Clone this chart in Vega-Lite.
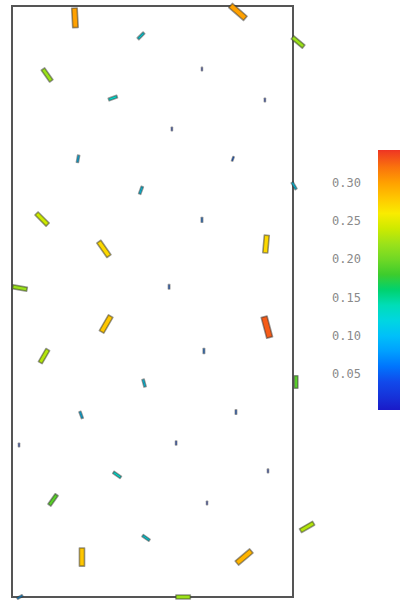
{
  "$schema": "https://vega.github.io/schema/vega-lite/v6.json",
  "autosize": {"type": "none"},
  "width": 281,
  "height": 591,
  "padding": {"left": 12, "top": 6, "right": 112, "bottom": 4},
  "background": "white",
  "config": {"view": {"stroke": "#555", "strokeWidth": 2}},
  "data": {"values": [
    {"x": 2.24, "y": 20.58, "angle": 177, "mag": 0.30},
    {"x": 8.04, "y": 20.79, "angle": 131, "mag": 0.30},
    {"x": 4.59, "y": 19.94, "angle": 45, "mag": 0.12},
    {"x": 10.18, "y": 19.72, "angle": 130, "mag": 0.22},
    {"x": 1.25, "y": 18.55, "angle": 145, "mag": 0.22},
    {"x": 6.76, "y": 18.76, "angle": 0, "mag": 0.02},
    {"x": 3.59, "y": 17.73, "angle": 70, "mag": 0.13},
    {"x": 9.00, "y": 17.66, "angle": 0, "mag": 0.03},
    {"x": 5.69, "y": 16.63, "angle": 0, "mag": 0.03},
    {"x": 2.35, "y": 15.57, "angle": 10, "mag": 0.10},
    {"x": 7.86, "y": 15.57, "angle": 20, "mag": 0.05},
    {"x": 4.59, "y": 14.45, "angle": 20, "mag": 0.11},
    {"x": 10.04, "y": 14.61, "angle": 150, "mag": 0.11},
    {"x": 1.07, "y": 13.43, "angle": 135, "mag": 0.24},
    {"x": 3.27, "y": 12.37, "angle": 145, "mag": 0.27},
    {"x": 6.76, "y": 13.40, "angle": 0, "mag": 0.06},
    {"x": 9.04, "y": 12.54, "angle": 5, "mag": 0.27},
    {"x": 0.28, "y": 10.98, "angle": 100, "mag": 0.22},
    {"x": 5.59, "y": 11.02, "angle": 0, "mag": 0.05},
    {"x": 3.35, "y": 9.70, "angle": 30, "mag": 0.28},
    {"x": 9.07, "y": 9.59, "angle": 165, "mag": 0.33},
    {"x": 1.14, "y": 8.56, "angle": 30, "mag": 0.23},
    {"x": 6.83, "y": 8.74, "angle": 0, "mag": 0.06},
    {"x": 4.70, "y": 7.60, "angle": 165, "mag": 0.11},
    {"x": 10.11, "y": 7.64, "angle": 0, "mag": 0.19},
    {"x": 2.46, "y": 6.47, "angle": 160, "mag": 0.10},
    {"x": 7.97, "y": 6.57, "angle": 0, "mag": 0.05},
    {"x": 5.84, "y": 5.47, "angle": 0, "mag": 0.04},
    {"x": 0.25, "y": 5.40, "angle": 0, "mag": 0.03},
    {"x": 3.74, "y": 4.34, "angle": 125, "mag": 0.13},
    {"x": 9.11, "y": 4.48, "angle": 0, "mag": 0.03},
    {"x": 1.46, "y": 3.45, "angle": 35, "mag": 0.19},
    {"x": 6.94, "y": 3.34, "angle": 0, "mag": 0.02},
    {"x": 4.77, "y": 2.10, "angle": 125, "mag": 0.12},
    {"x": 10.50, "y": 2.49, "angle": 60, "mag": 0.23},
    {"x": 2.49, "y": 1.42, "angle": 0, "mag": 0.28},
    {"x": 8.26, "y": 1.42, "angle": 50, "mag": 0.29},
    {"x": 6.09, "y": 0.0, "angle": 90, "mag": 0.22},
    {"x": 0.28, "y": 0.0, "angle": 60, "mag": 0.08}
  ]},
  "mark": {
    "type": "point",
    "filled": true,
    "opacity": 1,
    "shape": "M-0.28,-1 L0.28,-1 L0.28,1 L-0.28,1 Z",
    "stroke": "#333",
    "strokeOpacity": 0.5,
    "strokeWidth": 1.6,
    "strokeJoin": "round"
  },
  "encoding": {
    "x": {"field": "x", "type": "quantitative", "scale": {"domain": [0, 10], "nice": false, "zero": false}, "axis": null},
    "y": {"field": "y", "type": "quantitative", "scale": {"domain": [0, 21], "nice": false, "zero": false}, "axis": null},
    "angle": {"field": "angle", "type": "quantitative", "scale": {"domain": [0, 360], "range": [0, 360]}},
    "size": {"field": "mag", "type": "quantitative", "scale": {"type": "pow", "exponent": 2, "domain": [0, 0.34], "range": [9, 484]}, "legend": null},
    "color": {
      "field": "mag",
      "type": "quantitative",
      "scale": {
        "domain": [0.003, 0.343],
        "range": ["#1a1ac8", "#1050f0", "#00b0ff", "#00e0d0", "#20c830", "#90e020", "#f8f000", "#ffa000", "#ee3322"]
      },
      "legend": {
        "orient": "none",
        "legendX": 366,
        "legendY": 144,
        "direction": "vertical",
        "title": null,
        "gradientLength": 260,
        "gradientThickness": 22,
        "gradientStrokeWidth": 0,
        "values": [0.05, 0.10, 0.15, 0.20, 0.25, 0.30],
        "format": ".2f",
        "labelOffset": -68,
        "labelFont": "DejaVu Sans Mono",
        "labelFontSize": 12,
        "labelColor": "#8a8a8a",
        "labelOverlap": false,
        "padding": 0
      }
    }
  }
}
